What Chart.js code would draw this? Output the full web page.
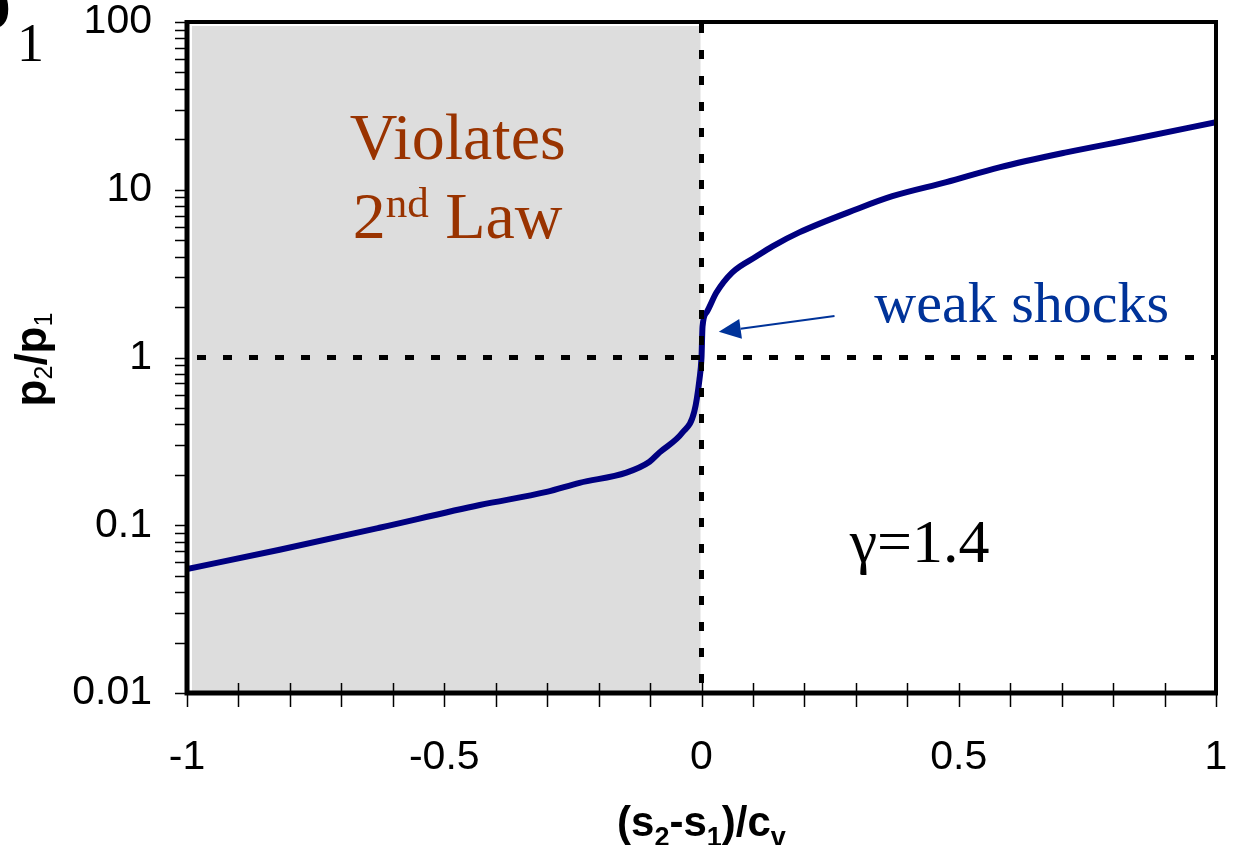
<!DOCTYPE html>
<html>
<head>
<meta charset="utf-8">
<script src="https://cdn.jsdelivr.net/npm/chart.js@4.4.0/dist/chart.umd.min.js"></script>
<style>
  html, body { margin: 0; padding: 0; background: #fff; }
  #grafico { display: block; }
</style>
</head>
<body>
<canvas id="grafico" width="1233" height="845"></canvas>
<script>
// --- DADOS ---
// (s2-s1)/cv
const entropia = [-1.0, -0.82, -0.626, -0.431, -0.301, -0.237, -0.146, -0.101, -0.082, -0.037,
    -0.014, -0.004, 0, 0.002, 0.01, 0.029, 0.06, 0.107, 0.138, 0.19,
    0.301, 0.371, 0.476, 0.579, 0.709, 0.838, 1.0];
// p2/p1
const razaoPressao = [0.0548, 0.0714, 0.0966, 0.132, 0.158, 0.179, 0.206, 0.239, 0.271, 0.357,
    0.476, 0.739, 1.0, 1.53, 1.86, 2.44, 3.22, 4.01, 4.60, 5.57,
    7.65, 9.15, 11.1, 13.6, 16.7, 20.0, 25.3];

const xTicks = [-1, -0.5, 0, 0.5, 1];
const xTickLabels = ['-1', '-0.5', '0', '0.5', '1'];
const yTicks = [0.01, 0.1, 1, 10, 100];
const yTickLabels = ['0.01', '0.1', '1', '10', '100'];

const SANS = '"Liberation Sans", Arial, sans-serif';
const SERIF = '"Liberation Serif", "Times New Roman", serif';

// marcas menores dos eixos
const xMinor = [];
for (let i = -10; i <= 10; i++) xMinor.push(i / 10);
const yMinor = [];
[0.01, 0.1, 1, 10].forEach(d => { for (let m = 1; m <= 9; m++) yMinor.push(m * d); });
yMinor.push(100);

// desenha texto com partes de tamanhos diferentes (sub/sobrescrito)
function textoRico(ctx, partes, x, y, align) {
    let total = 0;
    partes.forEach(p => { ctx.font = p.f; total += ctx.measureText(p.t).width; });
    let cx = align === 'center' ? x - total / 2 : x;
    ctx.textAlign = 'left';
    ctx.textBaseline = 'alphabetic';
    partes.forEach(p => {
        ctx.font = p.f;
        ctx.fillText(p.t, cx, y + (p.dy || 0));
        cx += ctx.measureText(p.t).width;
    });
}

const decoracao = {
    id: 'decoracao',
    beforeDatasetsDraw(chart) {
        const { ctx, chartArea: a, scales: { x } } = chart;
        ctx.save();
        ctx.fillStyle = '#dddddd';
        const x0 = x.getPixelForValue(0);
        ctx.fillRect(a.left + 5, a.top + 4, x0 - a.left - 6, a.bottom - a.top - 6);
        ctx.restore();
    },
    afterDatasetsDraw(chart) {
        const { ctx, chartArea: a, scales: { x, y } } = chart;
        ctx.save();

        // linhas tracejadas em x=0 e p2/p1=1
        ctx.strokeStyle = '#000';
        ctx.lineWidth = 5;
        ctx.setLineDash([9, 17]);
        const x0 = x.getPixelForValue(0);
        const y1 = y.getPixelForValue(1);
        ctx.beginPath();
        ctx.moveTo(x0, a.top + 2);
        ctx.lineTo(x0, a.bottom);
        ctx.moveTo(a.left + 10, y1);
        ctx.lineTo(a.right, y1);
        ctx.stroke();
        ctx.setLineDash([]);

        // moldura
        ctx.lineWidth = 4;
        ctx.strokeRect(a.left, a.top, a.right - a.left, a.bottom - a.top);
        ctx.lineWidth = 5;
        ctx.beginPath();
        ctx.moveTo(a.left, a.top - 2);
        ctx.lineTo(a.left, a.bottom);
        ctx.lineTo(a.right + 2, a.bottom);
        ctx.stroke();

        // marcas dos eixos
        ctx.lineWidth = 1.5;
        ctx.beginPath();
        yMinor.forEach(v => {
            const py = Math.round(y.getPixelForValue(v)) + 0.5;
            ctx.moveTo(a.left - 12, py);
            ctx.lineTo(a.left, py);
        });
        xMinor.forEach(v => {
            const px = Math.round(x.getPixelForValue(v)) + 0.5;
            ctx.moveTo(px, a.bottom - 10);
            ctx.lineTo(px, a.bottom + 14);
        });
        ctx.stroke();

        // seta "weak shocks"
        const tx = x.getPixelForValue(0.2585), ty = y.getPixelForValue(1.765);
        const hx = x.getPixelForValue(0.0336), hy = y.getPixelForValue(1.423);
        const ang = Math.atan2(hy - ty, hx - tx);
        const comp = 22, meia = 10;
        const bx = hx - comp * Math.cos(ang), by = hy - comp * Math.sin(ang);
        ctx.strokeStyle = '#003399';
        ctx.fillStyle = '#003399';
        ctx.lineWidth = 2;
        ctx.beginPath();
        ctx.moveTo(tx, ty);
        ctx.lineTo(bx, by);
        ctx.stroke();
        ctx.beginPath();
        ctx.moveTo(hx, hy);
        ctx.lineTo(bx + meia * Math.sin(ang), by - meia * Math.cos(ang));
        ctx.lineTo(bx - meia * Math.sin(ang), by + meia * Math.cos(ang));
        ctx.closePath();
        ctx.fill();

        // anotações
        ctx.fillStyle = '#993300';
        const cViol = x.getPixelForValue(-0.474);
        textoRico(ctx, [{ t: 'Violates', f: `66px ${SERIF}` }], cViol, y.getPixelForValue(15.2), 'center');
        textoRico(ctx, [
            { t: '2', f: `66px ${SERIF}` },
            { t: 'nd', f: `43px ${SERIF}`, dy: -21 },
            { t: ' Law', f: `66px ${SERIF}` }
        ], cViol, y.getPixelForValue(5.13), 'center');

        ctx.fillStyle = '#003399';
        textoRico(ctx, [{ t: 'weak shocks', f: `58px ${SERIF}` }], x.getPixelForValue(0.336), y.getPixelForValue(1.62), 'left');

        ctx.fillStyle = '#000';
        textoRico(ctx, [{ t: 'γ=1.4', f: `62px ${SERIF}` }], x.getPixelForValue(0.288), y.getPixelForValue(0.0605), 'left');

        ctx.restore();
    },
    afterDraw(chart) {
        const { ctx, chartArea: a } = chart;
        ctx.save();
        ctx.fillStyle = '#000';

        // título do eixo x
        const negrito = `bold 42px ${SANS}`, sub = `bold 27px ${SANS}`;
        textoRico(ctx, [
            { t: '(s', f: negrito }, { t: '2', f: sub, dy: 10 },
            { t: '-s', f: negrito }, { t: '1', f: sub, dy: 10 },
            { t: ')/c', f: negrito }, { t: 'v', f: sub, dy: 10 }
        ], (a.left + a.right) / 2, 836, 'center');

        // título do eixo y
        ctx.translate(46, (a.top + a.bottom) / 2 + 2);
        ctx.rotate(-Math.PI / 2);
        textoRico(ctx, [
            { t: 'p', f: `bold 44px ${SANS}` }, { t: '2', f: `25px ${SANS}`, dy: 6 },
            { t: '/', f: `bold 44px ${SANS}` },
            { t: 'p', f: `bold 44px ${SANS}` }, { t: '1', f: `25px ${SANS}`, dy: 6 }
        ], 0, 0, 'center');
        ctx.restore();

        // restos do título cortado no canto
        ctx.save();
        ctx.fillStyle = '#000';
        ctx.textBaseline = 'alphabetic';
        ctx.font = `bold 80px ${SERIF}`;
        ctx.fillText('p', -33, 28);
        ctx.font = `54px ${SERIF}`;
        ctx.fillText('1', 17, 61);
        ctx.restore();
    }
};

const grafico = new Chart(document.getElementById('grafico'), {
    type: 'line',
    data: {
        datasets: [{
            data: entropia.map((s, i) => ({ x: s, y: razaoPressao[i] })),
            borderColor: '#000080',
            borderWidth: 6,
            pointRadius: 0,
            cubicInterpolationMode: 'monotone',
            fill: false
        }]
    },
    options: {
        responsive: false,
        animation: false,
        layout: { padding: { top: 22, right: 17, left: 0, bottom: 0 } },
        plugins: { legend: { display: false }, tooltip: { enabled: false } },
        scales: {
            x: {
                type: 'linear',
                min: -1,
                max: 1,
                afterBuildTicks: s => { s.ticks = xTicks.map(v => ({ value: v })); },
                afterFit: s => { s.height = 152; s.paddingLeft = 0; s.paddingRight = 0; },
                ticks: {
                    padding: 40,
                    color: '#000',
                    autoSkip: false,
                    maxRotation: 0,
                    font: { family: SANS, size: 41 },
                    callback: (v, i) => xTickLabels[i]
                },
                grid: { display: false, drawTicks: false, tickLength: 0 },
                border: { display: false }
            },
            y: {
                type: 'logarithmic',
                min: 0.01,
                max: 100,
                afterBuildTicks: s => { s.ticks = yTicks.map(v => ({ value: v })); },
                afterFit: s => { s.width = 187; s.paddingTop = 0; s.paddingBottom = 0; },
                ticks: {
                    padding: 35,
                    color: '#000',
                    autoSkip: false,
                    font: { family: SANS, size: 41 },
                    callback: (v, i) => yTickLabels[i]
                },
                grid: { display: false, drawTicks: false, tickLength: 0 },
                border: { display: false }
            }
        }
    },
    plugins: [decoracao]
});
</script>
</body>
</html>
